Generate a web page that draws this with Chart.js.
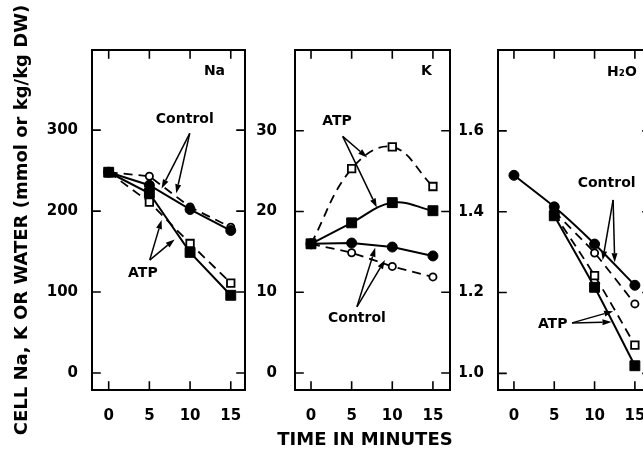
<!DOCTYPE html>
<html>
<head>
<meta charset="utf-8">
<script src="https://cdn.jsdelivr.net/npm/chart.js@4.4.1/dist/chart.umd.min.js"></script>
<style>
  html, body { margin: 0; padding: 0; background: #fff; overflow: hidden; width: 643px; height: 452px; }
  .panel { position: absolute; top: 0; height: 452px; }
</style>
</head>
<body>
<div class="panel" style="left:0;width:255px"><canvas id="naChart"></canvas></div>
<div class="panel" style="left:255px;width:205px"><canvas id="kChart"></canvas></div>
<div class="panel" style="left:460px;width:200px"><canvas id="waterChart"></canvas></div>
<script>
// Sampling times (minutes)
const minutes = [0, 5, 10, 15];

// Cell Na (mmol/kg DW)
const naControlSolid  = [248, 232, 202, 176];
const naControlDashed = [248, 243, 205, 180];
const naAtpSolid      = [248, 222, 149, 96];
const naAtpDashed     = [248, 211, 160, 111];

// Cell K (mmol/kg DW)
const kControlSolid  = [16, 16.1, 15.6, 14.5];
const kControlDashed = [16, 14.9, 13.2, 11.9];
const kAtpSolid      = [16, 18.6, 21.1, 20.1];
const kAtpDashed     = [16, 25.3, 28.0, 23.1];

// Cell water (kg/kg DW)
const waterControlSolid  = [1.49, 1.412, 1.32, 1.218];
const waterControlDashed = [null, 1.40, 1.298, 1.172];
const waterAtpSolid      = [null, 1.39, 1.213, 1.019];
const waterAtpDashed     = [null, 1.395, 1.242, 1.07];

// Axis tick values
const timeTicks  = [0, 5, 10, 15];
const naTicks    = [0, 100, 200, 300];
const kTicks     = [0, 10, 20, 30];
const waterTicks = [1.0, 1.2, 1.4, 1.6];

const FONT = 'DejaVu Sans';

// Box frame with inward tick marks on all four sides
const framePlugin = {
  id: 'frame',
  beforeDatasetsDraw(chart) {
    const { ctx, chartArea: a, scales: { x, y } } = chart;
    const tl = 8;
    ctx.save();
    ctx.strokeStyle = '#000';
    ctx.lineWidth = 2;
    ctx.lineCap = 'square';
    ctx.strokeRect(a.left, a.top, a.right - a.left, a.bottom - a.top);
    ctx.lineWidth = 1.6;
    ctx.beginPath();
    x.ticks.forEach(t => {
      const px = x.getPixelForValue(t.value);
      ctx.moveTo(px, a.bottom); ctx.lineTo(px, a.bottom - tl);
      ctx.moveTo(px, a.top); ctx.lineTo(px, a.top + tl);
    });
    y.ticks.forEach(t => {
      const py = y.getPixelForValue(t.value);
      ctx.moveTo(a.left, py); ctx.lineTo(a.left + tl, py);
      ctx.moveTo(a.right, py); ctx.lineTo(a.right - tl, py);
    });
    ctx.stroke();
    ctx.restore();
  }
};

// Panel name, series labels, pointer arrows and the shared time-axis title
const notesPlugin = {
  id: 'notes',
  afterDatasetsDraw(chart, args, opts) {
    const { ctx, scales: { x, y } } = chart;
    const P = (p) => [x.getPixelForValue(p[0]), y.getPixelForValue(p[1])];
    ctx.save();
    ctx.fillStyle = '#000';
    ctx.strokeStyle = '#000';
    ctx.textAlign = 'center';
    ctx.textBaseline = 'middle';
    (opts.labels || []).forEach(l => {
      ctx.font = `bold ${l.size || 14}px "${FONT}"`;
      const [px, py] = P(l.at);
      ctx.fillText(l.text, px, py);
    });
    ctx.lineWidth = 1.5;
    (opts.arrows || []).forEach(ar => {
      const [x0, y0] = P(ar.from);
      const [x1, y1] = P(ar.to);
      const ang = Math.atan2(y1 - y0, x1 - x0);
      const len = 9, hw = 3;
      const bx = x1 - len * Math.cos(ang), by = y1 - len * Math.sin(ang);
      ctx.beginPath();
      ctx.moveTo(x0, y0); ctx.lineTo(bx, by);
      ctx.stroke();
      ctx.beginPath();
      ctx.moveTo(x1, y1);
      ctx.lineTo(bx + hw * Math.sin(ang), by - hw * Math.cos(ang));
      ctx.lineTo(bx - hw * Math.sin(ang), by + hw * Math.cos(ang));
      ctx.closePath();
      ctx.fill();
    });
    ctx.restore();
  }
};

function series(values, { dashed, square, filled, tension }) {
  return {
    data: minutes.map((m, i) => ({ x: m, y: values[i] })),
    borderColor: '#000',
    borderWidth: dashed ? 1.8 : 2,
    borderDash: dashed ? [9, 6] : [],
    tension: tension || 0,
    spanGaps: true,
    fill: false,
    pointStyle: square ? 'rect' : 'circle',
    pointRadius: square ? (filled ? 7 : 5.3) : (filled ? 5 : 3.6),
    pointBackgroundColor: filled ? '#000' : '#fff',
    pointBorderColor: '#000',
    pointBorderWidth: filled ? 1 : 1.8
  };
}

function panel(id, p) {
  const tickFont = { family: FONT, size: 15, weight: 'bold' };
  return new Chart(document.getElementById(id), {
    type: 'line',
    data: { datasets: p.datasets },
    options: {
      responsive: true,
      maintainAspectRatio: false,
      animation: false,
      events: [],
      layout: { padding: { top: 50, right: p.padRight, bottom: 0, left: 0 } },
      plugins: { legend: { display: false }, tooltip: { enabled: false }, notes: p.notes },
      scales: {
        x: {
          type: 'linear', min: p.xMin, max: p.xMax,
          afterBuildTicks: s => { s.ticks = timeTicks.map(v => ({ value: v })); },
          afterFit: s => { s.height = 62; },
          grid: { display: false }, border: { display: false },
          ticks: { font: tickFont, color: '#000', padding: 9, maxRotation: 0, autoSkip: false, callback: v => String(v) }
        },
        y: {
          type: 'linear', min: p.yMin, max: p.yMax,
          afterBuildTicks: s => { s.ticks = p.yTicks.map(v => ({ value: v })); },
          afterFit: s => { s.width = p.yWidth; },
          grid: { display: false }, border: { display: false },
          ticks: { font: tickFont, color: '#000', padding: p.yPad, autoSkip: false, callback: p.fmt },
          title: p.yTitle ? { display: true, text: p.yTitle, color: '#000', font: { family: FONT, size: 18, weight: 'bold' }, padding: { top: 12, bottom: 0 } } : { display: false }
        }
      }
    },
    plugins: [framePlugin, notesPlugin]
  });
}

panel('naChart', {
  datasets: [
    series(naControlSolid,  { filled: true }),
    series(naAtpSolid,      { filled: true, square: true }),
    series(naControlDashed, { dashed: true }),
    series(naAtpDashed,     { dashed: true, square: true })
  ],
  xMin: -2.05, xMax: 16.75, yMin: -21, yMax: 399,
  yTicks: naTicks, fmt: v => String(v), yWidth: 92, yPad: 6, padRight: 10,
  yTitle: 'CELL Na, K OR WATER (mmol or kg/kg DW)',
  notes: {
    labels: [
      { text: 'Na', at: [13.0, 372] },
      { text: 'Control', at: [9.35, 313] },
      { text: 'ATP', at: [4.2, 123] }
    ],
    arrows: [
      { from: [9.96, 296], to: [6.5, 228] },
      { from: [9.96, 296], to: [8.3, 222] },
      { from: [5.04, 139.5], to: [6.5, 189] },
      { from: [5.04, 139.5], to: [8.1, 165] }
    ]
  }
});

panel('kChart', {
  datasets: [
    series(kControlSolid,  { filled: true }),
    series(kAtpSolid,      { filled: true, square: true, tension: 0.4 }),
    series(kControlDashed, { dashed: true }),
    series(kAtpDashed,     { dashed: true, square: true, tension: 0.4 })
  ],
  xMin: -1.97, xMax: 17.1, yMin: -2.1, yMax: 40,
  yTicks: kTicks, fmt: v => String(v), yWidth: 40, yPad: 10, padRight: 10,
  notes: {
    labels: [
      { text: 'K', at: [14.2, 37.3] },
      { text: 'ATP', at: [3.2, 31.2] },
      { text: 'Control', at: [5.65, 6.8] },
      { text: 'TIME IN MINUTES', at: [6.64, -8.3], size: 18 }
    ],
    arrows: [
      { from: [3.9, 29.3], to: [6.9, 26.7] },
      { from: [3.9, 29.3], to: [8.1, 20.5] },
      { from: [5.65, 8.2], to: [7.9, 15.5] },
      { from: [5.65, 8.2], to: [9.1, 14.0] }
    ]
  }
});

panel('waterChart', {
  datasets: [
    series(waterControlSolid,  { filled: true, tension: 0.2 }),
    series(waterAtpSolid,      { filled: true, square: true, tension: 0.3 }),
    series(waterControlDashed, { dashed: true, tension: 0.2 }),
    series(waterAtpDashed,     { dashed: true, square: true, tension: 0.3 })
  ],
  xMin: -1.98, xMax: 17, yMin: 0.959, yMax: 1.8,
  yTicks: waterTicks, fmt: v => v.toFixed(1), yWidth: 38, yPad: 6, padRight: 9,
  notes: {
    labels: [
      { text: 'H\u2082O', at: [13.4, 1.745] },
      { text: 'Control', at: [11.5, 1.471] },
      { text: 'ATP', at: [4.8, 1.122] }
    ],
    arrows: [
      { from: [12.3, 1.429], to: [11.0, 1.28] },
      { from: [12.3, 1.429], to: [12.5, 1.275] },
      { from: [7.2, 1.125], to: [12.3, 1.154] },
      { from: [7.2, 1.125], to: [12.1, 1.127] }
    ]
  }
});
</script>
</body>
</html>
